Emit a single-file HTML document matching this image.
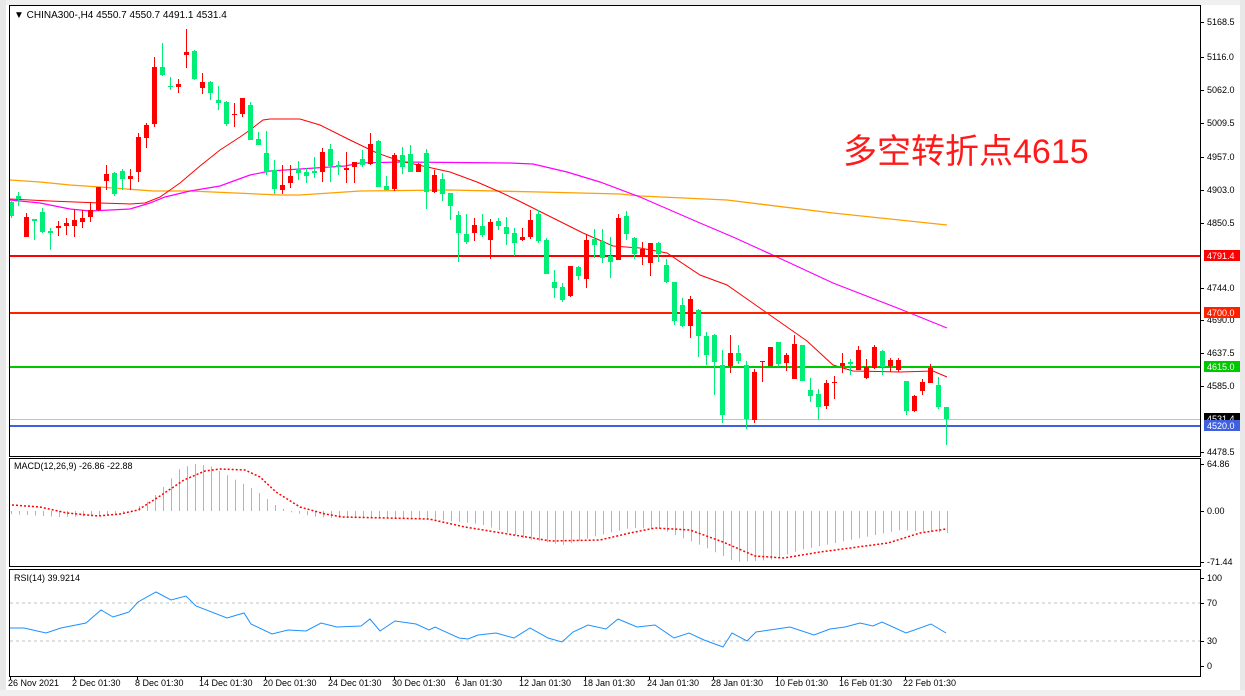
<!DOCTYPE html>
<html><head><meta charset="utf-8"><style>
html,body{margin:0;padding:0;background:#fff;}
svg{display:block;font-family:"Liberation Sans",Tahoma,sans-serif;}
</style></head><body>
<svg id="s" width="1245" height="696" viewBox="0 0 1245 696" xmlns="http://www.w3.org/2000/svg">
<rect x="0" y="0" width="1245" height="696" fill="#fff"/>
<rect x="0" y="0" width="1245" height="5" fill="#f0f0f0"/>
<rect x="0" y="0" width="6" height="696" fill="#e8e8e8"/>
<rect x="1240" y="0" width="5" height="696" fill="#e8e8e8"/>
<rect x="0" y="690" width="1245" height="6" fill="#f0f0f0"/>
<g id="lines"></g>
<g id="c"></g>
<g fill="none" stroke="#000" stroke-width="1">
<rect x="9.5" y="5.5" width="1191" height="451"/>
<rect x="9.5" y="458.5" width="1191" height="108"/>
<rect x="9.5" y="569.5" width="1191" height="107"/>
</g>
<text x="14" y="18" font-size="10" fill="#000">▼ CHINA300-,H4  4550.7 4550.7 4491.1 4531.4</text>
<text x="843" y="163" font-size="34" fill="#ff1a1a" font-family="'Liberation Sans','Noto Sans CJK SC',sans-serif">多空转折点4615</text>
<text x="14" y="469" font-size="9" fill="#000">MACD(12,26,9) -26.86 -22.88</text>
<text x="14" y="581" font-size="9" fill="#000">RSI(14) 39.9214</text>
<g id="ax" font-size="9" fill="#000"></g>
</svg>
<script>
var NS="http://www.w3.org/2000/svg";
function el(p,t,a){var e=document.createElementNS(NS,t);for(var k in a)e.setAttribute(k,a[k]);p.appendChild(e);return e;}
var L=document.getElementById('lines'),C=document.getElementById('c'),A=document.getElementById('ax');
function pl(pts,col,w,dash,par){el(par||L,'polyline',{points:pts.map(function(p){return p.join(',')}).join(' '),fill:'none',stroke:col,'stroke-width':w||1,'stroke-dasharray':dash||''});}
pl([[10,180],[40,182],[70,185],[100,187],[153,191],[190,191],[280,195],[300,195],[330,193],[360,191],[450,190],[540,192],[620,194],[640,196],[727,200],[833,213],[947,225]],'#ffa000',1.3);
pl([[10,200],[40,203],[70,209],[90,211],[130,209],[150,203],[165,197],[190,191],[220,186],[250,175],[270,171],[300,169],[345,166],[360,163],[400,162],[510,163],[533,164],[567,172],[600,182],[640,197],[700,223],[733,237],[777,257],[833,283],[900,309],[947,328]],'#ff00ff',1.2);
pl([[10,199],[50,201],[100,203],[130,204],[145,203],[160,197],[180,183],[200,166],[220,150],[240,137],[250,130],[263,120],[270,119],[300,119],[320,125],[350,140],[377,153],[400,161],[450,172],[477,182],[500,192],[517,200],[553,218],[583,233],[613,246],[640,248],[667,253],[700,275],[727,285],[767,313],[807,341],[833,365],[853,371],[900,372],[933,371],[947,377]],'#ff0000',1);
el(L,'line',{x1:10,x2:1200,y1:419.5,y2:419.5,stroke:'#c0c0c0','stroke-width':1});
[[256,'#ff0000','4791.4'],[313,'#ff2000','4700.0'],[367,'#00c800','4615.0'],[426,'#4060e0','4520.0']].forEach(function(h){
 el(L,'line',{x1:10,x2:1200,y1:h[0],y2:h[0],stroke:h[1],'stroke-width':2});
});
var G=1,R=0;
var d=[[11,202,216,200,218,G],[18,196,199,192,206,G],[26,217,237,213,237,R],[34,219,221,219,240,G],[42,212,232,208,233,G],[50,231,233,228,250,G],[58,226,228,221,236,R],[66,223,226,218,235,R],[74,220,226,210,237,R],[82,218,222,210,228,R],[90,210,217,202,222,R],[98,187,210,187,211,R],[106,174,181,165,190,R],[114,173,194,172,196,G],[122,171,179,169,190,G],[130,176,179,169,190,R],[138,137,172,133,182,R],[146,125,138,123,148,R],[154,67,124,57,127,R],[162,67,75,43,76,G],[170,86,87,77,90,G],[178,84,87,79,93,R],[186,52,55,29,68,R],[194,51,79,50,80,G],[202,82,88,73,94,R],[210,82,93,81,100,G],[218,100,103,86,110,G],[226,102,124,101,126,G],[234,114,115,103,127,R],[242,98,114,98,117,R],[250,105,140,102,140,G],[258,139,145,132,145,G],[266,153,172,131,175,G],[274,170,189,160,194,G],[282,185,190,165,194,R],[290,176,183,165,188,R],[298,169,173,161,180,G],[306,172,176,168,183,G],[314,171,173,157,178,G],
[322,152,172,148,182,R],[330,149,166,144,182,G],[338,165,167,161,175,G],[346,168,170,152,183,R],[354,162,167,162,183,R],[362,159,165,150,167,G],[370,144,164,133,165,R],[378,141,187,140,187,G],[386,186,190,176,190,G],[394,155,189,153,191,R],[402,155,167,147,174,G],[410,154,172,145,172,G],[418,164,172,163,172,R],[426,153,192,149,209,G],[434,175,192,170,193,R],[442,179,194,173,201,G],[450,193,206,193,220,G],[458,215,233,211,262,G],[466,234,242,214,244,G],[474,225,233,218,241,R],[482,226,235,214,237,G],[490,222,240,219,259,R],[498,221,226,218,230,G],[506,227,234,217,245,G],[514,233,243,228,256,G],[522,237,240,228,241,R],[530,220,237,210,239,R],[538,214,241,210,243,G],[546,240,274,238,274,G],[554,282,288,270,298,G],[562,287,300,283,302,G],[570,266,296,266,297,R],[578,267,276,266,280,G],[586,240,279,234,288,R],[594,239,245,229,258,G],[602,241,258,229,263,G],[610,256,262,237,278,G],[618,218,260,214,260,R],[626,216,234,211,240,G],[634,238,254,237,259,G],
[642,249,255,242,265,R],[650,243,263,243,276,R],[658,243,254,242,262,G],[666,265,282,259,283,G],[674,282,321,282,325,G],[682,305,326,298,327,G],[690,299,326,296,338,R],[698,310,336,309,357,G],[706,336,355,332,365,G],[714,335,362,334,395,G],[722,365,415,350,423,G],[730,353,366,335,373,R],[738,353,361,345,364,G],[746,365,419,361,429,G],[754,372,420,369,423,R],[762,361,362,361,382,R],[770,347,366,347,366,R],[778,342,364,342,367,G],[786,355,363,353,371,R],[794,344,379,335,377,R],[802,345,381,345,381,G],[810,390,396,378,402,G],[818,394,407,389,420,G],[826,383,406,380,409,R],[834,382,383,376,399,R],[842,363,366,353,373,R],[850,362,364,359,375,G],[858,350,370,346,370,R],[866,367,378,359,379,R],[874,347,368,345,369,R],[882,351,367,350,375,G],[890,360,366,358,372,R],[898,360,370,358,372,R],[906,381,411,381,415,G],[914,396,411,395,412,R],[922,382,391,379,395,R],[930,368,383,364,383,R],[938,385,407,377,409,G],[946,407,419,407,445,G]];
d.forEach(function(k){var col=k[5]?'#00ee76':'#ff0000';
 el(C,'line',{x1:k[0]+0.5,x2:k[0]+0.5,y1:k[3],y2:k[4],stroke:col,'stroke-width':1});
 el(C,'rect',{x:k[0]-2,y:k[1],width:5,height:Math.max(1,k[2]-k[1]),fill:col});
});
var hk=[[10,514],[60,517],[100,516],[130,511],[150,500],[165,485],[180,468],[195,464],[210,466],[230,477],[255,490],[275,505],[290,512],[310,516],[330,518],[420,518],[480,524],[530,540],[565,545],[600,535],[630,528],[660,529],[700,545],[735,562],[770,560],[800,550],[850,540],[900,530],[946,533]];
function interp(a,x){for(var i=0;i<a.length-1;i++){if(x>=a[i][0]&&x<=a[i+1][0]){var t=(x-a[i][0])/(a[i+1][0]-a[i][0]);return a[i][1]+t*(a[i+1][1]-a[i][1]);}}return a[a.length-1][1];}
for(var x=11;x<=947;x+=8){var y=interp(hk,x);el(L,'line',{x1:x+0.5,x2:x+0.5,y1:511,y2:y,stroke:'#b4b4b4','stroke-width':1});}
pl([[12,505],[40,507],[67,513],[98,516],[120,514],[138,510],[160,496],[184,480],[205,471],[220,469],[245,470],[260,477],[276,492],[300,507],[325,514],[343,517],[429,519],[465,527],[514,535],[551,541],[600,540],[630,533],[655,528],[690,530],[723,542],[755,556],[784,558],[820,552],[888,543],[920,533],[946,529]],'#ff0000',1.5,'2,2');
el(L,'line',{x1:10,x2:1200,y1:603,y2:603,stroke:'#c0c0c0','stroke-dasharray':'3,3'});
el(L,'line',{x1:10,x2:1200,y1:641,y2:641,stroke:'#c0c0c0','stroke-dasharray':'3,3'});
pl([[10,628],[24,628],[46,633],[61,628],[86,623],[101,610],[113,617],[129,612],[138,602],[156,592],[171,600],[186,596],[196,606],[227,618],[244,613],[251,624],[272,634],[288,630],[306,631],[321,623],[337,627],[361,626],[370,619],[380,631],[395,621],[416,624],[429,630],[435,627],[459,638],[468,639],[478,635],[496,633],[514,638],[530,628],[548,638],[562,642],[573,632],[588,625],[606,629],[618,619],[637,627],[655,625],[674,638],[689,633],[704,640],[723,647],[732,633],[747,641],[756,632],[790,627],[814,635],[830,629],[845,627],[860,623],[873,626],[882,622],[906,633],[931,624],[946,633]],'#1e90ff',1);
[[22,'5168.5'],[57,'5116.0'],[90,'5062.0'],[123,'5009.5'],[157,'4957.0'],[190,'4903.0'],[223,'4850.5'],[288,'4744.0'],[320,'4690.0'],[353,'4637.5'],[386,'4585.0'],[452,'4478.5'],[464,'64.86'],[511,'0.00'],[562,'-71.44'],[578,'100'],[603,'70'],[641,'30'],[666,'0']].forEach(function(t){
 el(A,'line',{x1:1200,x2:1204,y1:t[0]+0.5,y2:t[0]+0.5,stroke:'#000'});
 var e=el(A,'text',{x:1207,y:t[0]+3});e.textContent=t[1];});
[[419,'#000','4531.4'],[256,'#ff0000','4791.4'],[313,'#ff2000','4700.0'],[367,'#00c800','4615.0'],[426,'#4060e0','4520.0']].forEach(function(h){
 el(A,'rect',{x:1204,y:h[0]-6,width:36,height:11,fill:h[1]});
 var e=el(A,'text',{x:1207,y:h[0]+3,fill:'#fff'});e.textContent=h[2];});
[[10,'26 Nov 2021'],[74,'2 Dec 01:30'],[137,'8 Dec 01:30'],[201,'14 Dec 01:30'],[265,'20 Dec 01:30'],[330,'24 Dec 01:30'],[394,'30 Dec 01:30'],[457,'6 Jan 01:30'],[521,'12 Jan 01:30'],[585,'18 Jan 01:30'],[649,'24 Jan 01:30'],[713,'28 Jan 01:30'],[777,'10 Feb 01:30'],[841,'16 Feb 01:30'],[905,'22 Feb 01:30']].forEach(function(t){
 el(A,'line',{x1:t[0]+0.5,x2:t[0]+0.5,y1:676,y2:680,stroke:'#000'});
 var e=el(A,'text',{x:t[0]-2,y:686});e.textContent=t[1];});
</script>
</body></html>
